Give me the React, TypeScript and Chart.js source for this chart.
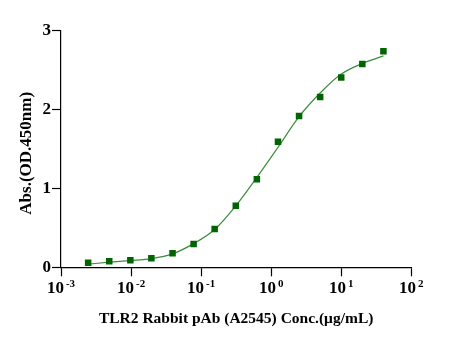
import React, { useEffect, useRef } from "react";
import { Chart, registerables } from "chart.js";

Chart.register(...registerables);

const concentrations = [0.00244, 0.00488, 0.00977, 0.0195, 0.0391, 0.0781, 0.156, 0.3125, 0.625, 1.25, 2.5, 5, 10, 20, 40];
const absorbance = [0.058, 0.076, 0.089, 0.114, 0.177, 0.295, 0.485, 0.781, 1.115, 1.592, 1.917, 2.158, 2.408, 2.577, 2.738];
const fitCurve = [0.04, 0.065, 0.085, 0.11, 0.17, 0.3, 0.48, 0.78, 1.14, 1.52, 1.91, 2.21, 2.45, 2.585, 2.68];
const xExponents = [-3, -2, -1, 0, 1, 2];
const yTicks = [0, 1, 2, 3];

const xTitle = "TLR2 Rabbit pAb (A2545) Conc.(\u03bcg/mL)";
const yTitle = "Abs.(OD.450nm)";

const FONT = "'Liberation Serif', 'Times New Roman', serif";

const expLabels = {
  id: "expLabels",
  afterDraw(chart: any) {
    const scale = chart.scales.x;
    const ctx = chart.ctx;
    ctx.save();
    ctx.fillStyle = "#000";
    ctx.textBaseline = "alphabetic";
    ctx.textAlign = "left";
    const base = scale.top + 26;
    xExponents.forEach((p) => {
      const x = scale.getPixelForValue(Math.pow(10, p));
      const expStr = p < 0 ? "-" + Math.abs(p) : String(p);
      ctx.font = `bold 17px ${FONT}`;
      const w1 = ctx.measureText("10").width;
      ctx.font = `bold 11px ${FONT}`;
      const w2 = ctx.measureText(expStr).width;
      const gap = 2;
      const start = x - (w1 + gap + w2) / 2;
      ctx.font = `bold 17px ${FONT}`;
      ctx.fillText("10", start, base);
      ctx.font = `bold 11px ${FONT}`;
      ctx.fillText(expStr, start + w1 + gap, base - 6);
    });
    // y-axis title
    const ys = chart.scales.y;
    ctx.save();
    ctx.translate(26.7, (ys.top + ys.bottom) / 2 + 4.3);
    ctx.rotate(-Math.PI / 2);
    ctx.textAlign = "center";
    ctx.textBaseline = "middle";
    ctx.font = `bold 17px ${FONT}`;
    ctx.fillText(yTitle, 0, 0);
    ctx.restore();
    ctx.restore();
  },
};

export default function App() {
  const ref = useRef<HTMLCanvasElement>(null);
  useEffect(() => {
    if (!ref.current) return;
    const chart = new Chart(ref.current, {
      type: "scatter",
      data: {
        datasets: [
          {
            label: "data",
            data: concentrations.map((c, i) => ({ x: c, y: absorbance[i] })),
            pointStyle: "rect",
            pointRadius: 4.6,
            backgroundColor: "#006400",
            borderColor: "#006400",
            borderWidth: 0,
            showLine: false,
          },
          {
            label: "fit",
            data: concentrations.map((c, i) => ({ x: c, y: fitCurve[i] })),
            showLine: true,
            pointRadius: 0,
            borderColor: "rgb(60,140,60)",
            borderWidth: 1.2,
            cubicInterpolationMode: "monotone",
            fill: false,
          },
        ],
      },
      options: {
        responsive: false,
        animation: false,
        layout: { padding: { top: 30.7, right: 49.7, bottom: 0, left: 0 } },
        plugins: { legend: { display: false }, tooltip: { enabled: false } },
        scales: {
          x: {
            type: "logarithmic",
            min: 0.001,
            max: 100,
            afterBuildTicks: (s: any) => {
              s.ticks = xExponents.map((p) => ({ value: Math.pow(10, p) }));
            },
            afterFit: (s: any) => {
              s.height = 345 - 267.3;
            },
            ticks: { display: false },
            grid: {
              display: true,
              drawOnChartArea: false,
              drawTicks: true,
              tickLength: 9,
              tickColor: "#000",
              tickWidth: 1.2,
            },
            border: { display: true, color: "#000", width: 1.2 },
            title: {
              display: true,
              text: xTitle,
              color: "#000",
              font: { family: FONT, size: 15.5, weight: "bold" },
              padding: { top: 0, bottom: 17.2 },
            },
          },
          y: {
            min: 0,
            max: 3,
            afterBuildTicks: (s: any) => {
              s.ticks = yTicks.map((v) => ({ value: v }));
            },
            afterFit: (s: any) => {
              s.width = 61;
            },
            ticks: {
              color: "#000",
              padding: 1,
              font: { family: FONT, size: 17, weight: "bold" },
            },
            grid: {
              display: true,
              drawOnChartArea: false,
              drawTicks: true,
              tickLength: 9,
              tickColor: "#000",
              tickWidth: 1.2,
            },
            border: { display: true, color: "#000", width: 1.2 },
            title: { display: false },
          },
        },
      },
      plugins: [expLabels],
    } as any);
    return () => chart.destroy();
  }, []);
  return (
    <div style={{ position: "absolute", left: 0, top: 0, width: 461, height: 345 }}>
      <canvas ref={ref} width={461} height={345} style={{ display: "block" }} />
    </div>
  );
}
